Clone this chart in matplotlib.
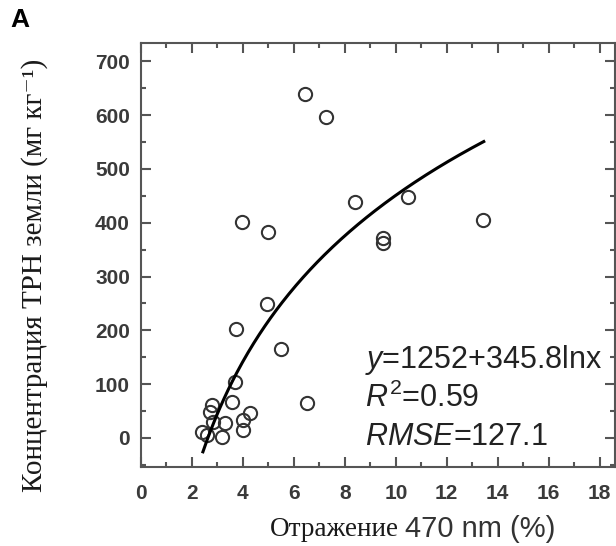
import numpy as np
import matplotlib
matplotlib.use("Agg")
import matplotlib.pyplot as plt
from matplotlib.ticker import MultipleLocator

# ---- data ----
refl_470 = [6.43, 7.25, 3.96, 4.98, 8.39, 10.47, 9.49, 9.49, 13.41, 4.94, 3.73, 5.49, 6.5,
            3.69, 3.57, 2.78, 2.71, 3.29, 4.27, 4.0, 4.0, 2.39, 3.18, 2.82, 2.59]
tph = [640, 597, 402, 383, 439, 448, 362, 372, 405, 249, 203, 165, 65,
       104, 67, 61, 48, 28, 46, 33, 15, 11, 2, 30, 6]
fit_a, fit_b = -325.0, 337.0          # curve y = a + b ln x as drawn
fit_x_range = (2.43, 13.45)
eq_lines = [r"$y$=1252+345.8lnx", r"$R^2$=0.59", r"$RMSE$=127.1"]
xticks = list(range(0, 20, 2))
yticks = list(range(0, 800, 100))

plt.rcParams['mathtext.fontset'] = 'custom'
plt.rcParams['mathtext.rm'] = 'Liberation Sans'
plt.rcParams['mathtext.it'] = 'Liberation Sans:italic'
plt.rcParams['font.family'] = ['Liberation Sans', 'DejaVu Sans']

fig = plt.figure(figsize=(6.16, 5.46), dpi=100)
ax = fig.add_axes([141/616, 1-467/546, (615-141)/616, (467-43)/546])

ax.plot(refl_470, tph, linestyle='none', marker='o', markersize=9.5,
        markerfacecolor='none', markeredgecolor='#333333', markeredgewidth=1.5)
xf = np.linspace(fit_x_range[0], fit_x_range[1], 200)
ax.plot(xf, fit_a + fit_b*np.log(xf), color='black', lw=2.2)

ax.set_xlim(0, 18.6)
ax.set_ylim(-54, 734)
ax.set_xticks(xticks)
ax.set_yticks(yticks)
ax.xaxis.set_minor_locator(MultipleLocator(1))
ax.yaxis.set_minor_locator(MultipleLocator(50))
ax.tick_params(which='both', direction='in', top=True, right=True,
               color='#555555', labelcolor='#3a3a3a', labelsize=15)
for lab in ax.get_xticklabels() + ax.get_yticklabels():
    lab.set_fontweight('bold')
ax.tick_params(which='major', length=7, width=1.5)
ax.tick_params(axis='x', which='major', pad=12)
ax.tick_params(axis='y', which='major', pad=8)
ax.tick_params(which='minor', length=3.5, width=1.5)
for s in ax.spines.values():
    s.set_color('#555555')
    s.set_linewidth(1.5)

for i, t in enumerate(eq_lines):
    ax.text(8.78, 145 - i*72, t, fontsize=22, color='#222222', va='center', ha='left')

fig.text(35/616, 1-275/546, "Концентрация ТРН земли (мг кг⁻¹)", rotation=90,
         family=['Liberation Serif', 'DejaVu Serif'], fontsize=21, color='#1a1a1a',
         ha='center', va='center')

fig.text(10/616, 1-20/546, "A", fontsize=19, fontweight='bold', ha='left', va='center')

t1 = fig.text(270/616, 1-530/546, "Отражение", family=['Liberation Serif', 'DejaVu Serif'],
              fontsize=19.5, color='#1a1a1a', ha='left', va='center')
fig.canvas.draw()
bb = t1.get_window_extent(fig.canvas.get_renderer())
fig.text((bb.x1 + 6)/616, 1-529/546, "470 nm (%)", fontsize=21, color='#333333',
         ha='left', va='center')

fig.savefig("out.png", dpi=100)
